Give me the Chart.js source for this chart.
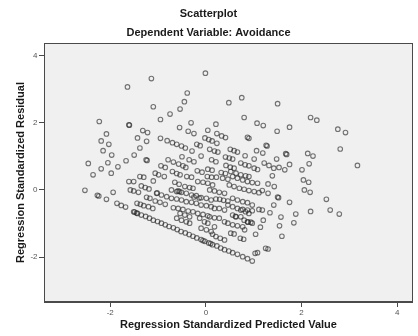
<!DOCTYPE html>
<html>
<head>
<meta charset="utf-8">
<script src="https://cdn.jsdelivr.net/npm/chart.js@4.4.1/dist/chart.umd.min.js"></script>
<style>
  html, body { margin: 0; padding: 0; background: #ffffff; }
  #c { display: block; }
</style>
</head>
<body>
<canvas id="c" width="418" height="336"></canvas>
<script>
// Regression residuals: [standardized predicted value, standardized residual]
const upperPoints = [
  [-0.01,3.48],[-1.14,3.32],[-1.64,3.07],[-0.39,2.89],[-0.45,2.63],[0.48,2.60],[0.75,2.75],[1.50,2.57],
  [-1.10,2.48],[-0.54,2.41],[-0.75,2.26],[-0.95,2.10],[0.80,2.16],[2.19,2.16],[2.32,2.08],[-2.23,2.04],
  [-0.31,2.00],[0.21,1.96],[-1.61,1.94],[-1.60,1.93],[1.07,1.99],[1.20,1.92],[-0.55,1.86],[1.75,1.87],
  [2.76,1.81],[2.92,1.71],[-1.32,1.77],[-1.22,1.71],[-0.37,1.75],[-0.25,1.68],[0.04,1.78],[1.49,1.75],
  [-2.08,1.67],[0.23,1.68],[0.33,1.61],[0.41,1.56],[-1.43,1.55],[-0.95,1.54],[0.87,1.57],[0.90,1.54],
  [-0.81,1.47],[-0.70,1.41],[-0.61,1.36],[-0.51,1.31],[-0.43,1.25],[-0.02,1.55],[0.06,1.50],[0.13,1.46],
  [0.23,1.39],[-2.19,1.46],[-2.03,1.36],[-1.24,1.45],[-0.19,1.36],[-0.12,1.32],[-1.38,1.25],[1.26,1.33],
  [1.28,1.31],[2.81,1.22],[-2.15,1.17],[-0.29,1.16],[0.08,1.21],[0.18,1.16],[0.25,1.13],[0.51,1.21],
  [0.59,1.17],[0.66,1.13],[1.06,1.17],[1.19,1.10],[1.67,1.08],[1.69,1.06],[2.13,1.09],[2.24,1.01],
  [-1.97,1.04],[-1.50,1.04]
];

const middlePoints = [
  [-0.50,0.99],[-0.10,1.01],[0.82,1.02],[0.41,0.98],[0.49,0.95],[0.56,0.92],[1.01,0.92],[1.48,0.92],
  [-1.67,0.87],[-1.25,0.90],[-1.23,0.88],[-0.79,0.90],[-0.68,0.83],[-0.57,0.77],[-0.48,0.72],[-0.42,0.67],
  [-0.35,0.90],[-0.25,0.84],[0.12,0.90],[0.21,0.84],[-2.46,0.79],[-2.05,0.81],[-1.84,0.69],[-0.94,0.72],
  [-0.85,0.67],[2.16,0.78],[3.17,0.73],[0.73,0.80],[0.82,0.75],[0.90,0.72],[1.01,0.65],[0.42,0.73],
  [0.51,0.68],[0.59,0.65],[1.22,0.80],[1.32,0.73],[1.42,0.65],[1.53,0.67],[1.65,0.60],[1.75,0.76],
  [2.01,0.60],[-0.18,0.57],[-0.08,0.53],[0.04,0.62],[0.13,0.59],[0.32,0.52],[0.41,0.49],[-2.19,0.63],
  [-2.36,0.45],[-1.98,0.50],[-1.38,0.40],[-1.30,0.38],[-1.06,0.50],[-0.99,0.45],[-0.87,0.40],[-0.70,0.55],
  [-0.61,0.49],[-0.54,0.45],[-0.40,0.40],[-0.30,0.38],[0.03,0.40],[0.12,0.38],[0.22,0.38],[0.52,0.55],
  [0.63,0.50],[0.73,0.45],[0.83,0.42],[0.90,0.40],[1.08,0.61],[1.39,0.42],[0.35,0.35],[0.46,0.32],
  [0.56,0.40],[0.66,0.35],[0.77,0.30],[0.87,0.25],[0.97,0.22],[1.08,0.20],[2.04,0.30],[2.15,0.23],
  [1.30,0.18],[1.43,0.10]
];

const lowerPoints = [
  [-1.51,0.25],[-1.61,0.25],[-1.10,0.27],[-0.17,0.25],[-0.06,0.23],[0.04,0.20],[0.14,0.15],[-0.65,0.23],
  [-0.56,0.17],[-0.44,0.10],[-0.34,0.07],[-0.27,0.05],[-1.35,0.12],[-1.27,0.07],[-1.19,0.03],[-1.58,0.00],
  [-1.51,-0.03],[-1.41,-0.07],[-2.53,-0.01],[-2.27,-0.16],[-2.24,-0.18],[-2.08,-0.28],[-1.94,-0.07],
  [-1.86,-0.40],[-1.77,-0.46],[-1.68,-0.51],[-1.24,-0.22],[-1.17,-0.25],
  [-1.03,-0.10],[-1.02,-0.09],[-0.93,-0.15],[-0.82,-0.20],[-0.72,-0.25],[-0.61,-0.27],[-0.51,-0.30],
  [-0.41,-0.35],[-0.30,-0.37],[-0.20,-0.40],[-0.10,-0.45],[0.01,-0.47],[0.11,-0.50],
  [-0.72,0.00],[-0.61,-0.05],[-0.58,-0.03],[-0.55,-0.05],[-0.51,-0.07],[-0.41,-0.10],[-0.30,-0.15],
  [-0.25,-0.21],[-0.20,-0.17],[-0.14,-0.24],[-0.10,-0.23],[0.01,-0.25],[0.11,-0.30],
  [-1.44,-0.40],[-1.37,-0.43],[-1.30,-0.47],[-1.20,-0.50],[-1.11,-0.55],
  [-1.06,-0.33],[-0.96,-0.37],[-0.85,-0.43],
  [-0.68,-0.53],[-0.58,-0.55],[-0.48,-0.58],[-0.37,-0.63],[-0.27,-0.65],[-0.17,-0.70],[-0.06,-0.73],[0.04,-0.77],
  [-0.54,-0.70],[-0.44,-0.75],[-0.34,-0.80],
  [-0.61,-0.84],[-0.51,-0.90],[-0.41,-0.95],[-0.34,-0.99],
  [-0.13,-0.84],[-0.03,-0.95],[0.04,-0.99],
  [-0.10,-1.14],[0.01,-1.19],[0.11,-1.24],
  [0.08,-0.80],[0.18,-0.83],[0.28,-0.84],[0.39,-0.95],[0.46,-0.99],
  [0.18,-1.10],
  [0.14,-1.32],[0.21,-1.39],[0.30,-1.44],[0.39,-1.49],
  [0.21,-0.27],[0.29,-0.28],[0.37,-0.31],[0.46,-0.33],
  [0.08,0.00],[0.18,-0.03],[0.28,-0.07],[0.39,-0.10],
  [0.18,-0.55],[0.28,-0.55],[0.39,-0.60],
  [2.06,0.00],[2.18,-0.07],[2.52,-0.28],[2.60,-0.60],[2.79,-0.72],[1.30,-0.10],[1.50,-0.21],[1.52,-0.23],
  [1.75,-0.37],[1.42,-0.45],[2.19,-0.64],[1.88,-0.72],[1.34,-0.68],[1.57,-0.81],[1.20,-0.90],[1.84,-0.98],
  [1.54,-1.07],[1.14,-1.11],[1.59,-1.38],[1.04,-1.32],[0.81,-1.19],[0.79,-1.47],[0.72,-1.44],[1.25,-1.74],
  [1.30,-1.76],[1.03,-1.89],[1.08,-1.87],[0.52,-1.29],[0.59,-1.31],
  [0.56,-1.04],[0.66,-1.07],[0.77,-1.10],[0.87,-0.95],[0.88,-0.96],[0.94,-0.96],[0.97,-0.99],
  [0.56,-0.75],[0.62,-0.79],[0.63,-0.80],[0.73,-0.80],[0.80,-0.90],
  [0.73,-0.60],[0.83,-0.65],[0.90,-0.70],
  [0.46,-0.45],[0.56,-0.50],[0.66,-0.55],[0.77,-0.58],[0.87,-0.60],[0.97,-0.62],[1.11,-0.58],[1.18,-0.60],
  [0.56,-0.25],[0.66,-0.30],[0.77,-0.35],[0.87,-0.38],[0.97,-0.45],
  [0.49,0.15],[0.59,0.10],[0.70,0.05],[0.80,0.02],[0.90,-0.02],[1.01,-0.05],[1.11,-0.08],[1.18,-0.02]
];

// Lowest diagonal band of residuals
const bottomBand = [
  [-1.51,-0.65],[-1.49,-0.66],[-1.45,-0.69],[-1.43,-0.70],[-1.35,-0.75],[-1.26,-0.79],[-1.18,-0.84],
  [-1.10,-0.90],[-1.01,-0.94],[-0.93,-0.99],[-0.85,-1.04],[-0.77,-1.09],[-0.68,-1.13],[-0.60,-1.18],
  [-0.52,-1.24],[-0.43,-1.28],[-0.35,-1.33],[-0.27,-1.38],[-0.19,-1.43],[-0.10,-1.48],[-0.06,-1.51],
  [-0.02,-1.53],[0.06,-1.58],[0.10,-1.60],[0.14,-1.63],[0.23,-1.67],[0.31,-1.73],[0.39,-1.78],
  [0.48,-1.82],[0.56,-1.87],[0.66,-1.92],[0.77,-1.99],[0.87,-2.05],[0.97,-2.12]
];

const xTickValues = [-2, 0, 2, 4];
const yTickValues = [-2, 0, 2, 4];

const points = [...upperPoints, ...middlePoints, ...lowerPoints, ...bottomBand]
  .map(([x, y]) => ({ x, y }));

const FONT = 'Arial, "Liberation Sans", sans-serif';

// Grey plot background and a full frame around the plot area
const plotFrame = {
  id: 'plotFrame',
  beforeDraw(chart) {
    const { ctx, chartArea: a } = chart;
    ctx.save();
    ctx.fillStyle = '#f0f0f0';
    ctx.fillRect(a.left, a.top, a.right - a.left, a.bottom - a.top);
    ctx.restore();
  },
  afterDraw(chart) {
    const { ctx, chartArea: a } = chart;
    ctx.save();
    ctx.strokeStyle = '#4a4a4a';
    ctx.lineWidth = 1;
    ctx.strokeRect(Math.round(a.left) + 0.5, Math.round(a.top) + 0.5,
                   Math.round(a.right - a.left) - 1, Math.round(a.bottom - a.top) - 1);
    ctx.restore();
  }
};

new Chart(document.getElementById('c'), {
  type: 'scatter',
  data: {
    datasets: [{
      data: points,
      pointStyle: 'circle',
      pointRadius: 2.3,
      pointBorderWidth: 1.1,
      pointBackgroundColor: 'rgba(0,0,0,0)',
      pointBorderColor: 'rgba(35,35,35,0.62)'
    }]
  },
  options: {
    responsive: false,
    animation: false,
    devicePixelRatio: 1,
    layout: { padding: { left: 0, right: 1, top: 0, bottom: 0 } },
    plugins: {
      legend: { display: false },
      tooltip: { enabled: false },
      title: {
        display: true,
        text: 'Scatterplot',
        color: '#1a1a1a',
        font: { family: FONT, size: 11, weight: 'bold' },
        padding: { top: 7.4, bottom: 3 }
      },
      subtitle: {
        display: true,
        text: 'Dependent Variable: Avoidance',
        color: '#1a1a1a',
        font: { family: FONT, size: 11, weight: 'bold' },
        padding: { top: 3.1, bottom: 3.1 }
      }
    },
    scales: {
      x: {
        type: 'linear',
        min: -3.386,
        max: 4.33,
        afterBuildTicks: s => { s.ticks = xTickValues.map(v => ({ value: v })); },
        afterFit: s => { s.height = 34; },
        grid: { drawOnChartArea: false, drawTicks: true, tickLength: 5, color: '#4a4a4a' },
        border: { display: true, color: '#4a4a4a' },
        ticks: { color: '#555', font: { family: FONT, size: 8 }, padding: 0.5, maxRotation: 0 },
        title: {
          display: true,
          text: 'Regression Standardized Predicted Value',
          color: '#1a1a1a',
          font: { family: FONT, size: 11, weight: 'bold' },
          padding: { top: 0, bottom: 4 }
        }
      },
      y: {
        type: 'linear',
        min: -3.34,
        max: 4.38,
        afterBuildTicks: s => { s.ticks = yTickValues.map(v => ({ value: v })); },
        afterFit: s => { s.width = 44; },
        grid: { drawOnChartArea: false, drawTicks: true, tickLength: 5, color: '#4a4a4a' },
        border: { display: true, color: '#4a4a4a' },
        ticks: { color: '#555', font: { family: FONT, size: 8 }, padding: 1.5 },
        title: {
          display: true,
          text: 'Regression Standardized Residual',
          color: '#1a1a1a',
          font: { family: FONT, size: 11, weight: 'bold' },
          padding: { top: 14.8, bottom: 0 }
        }
      }
    }
  },
  plugins: [plotFrame]
});
</script>
</body>
</html>
